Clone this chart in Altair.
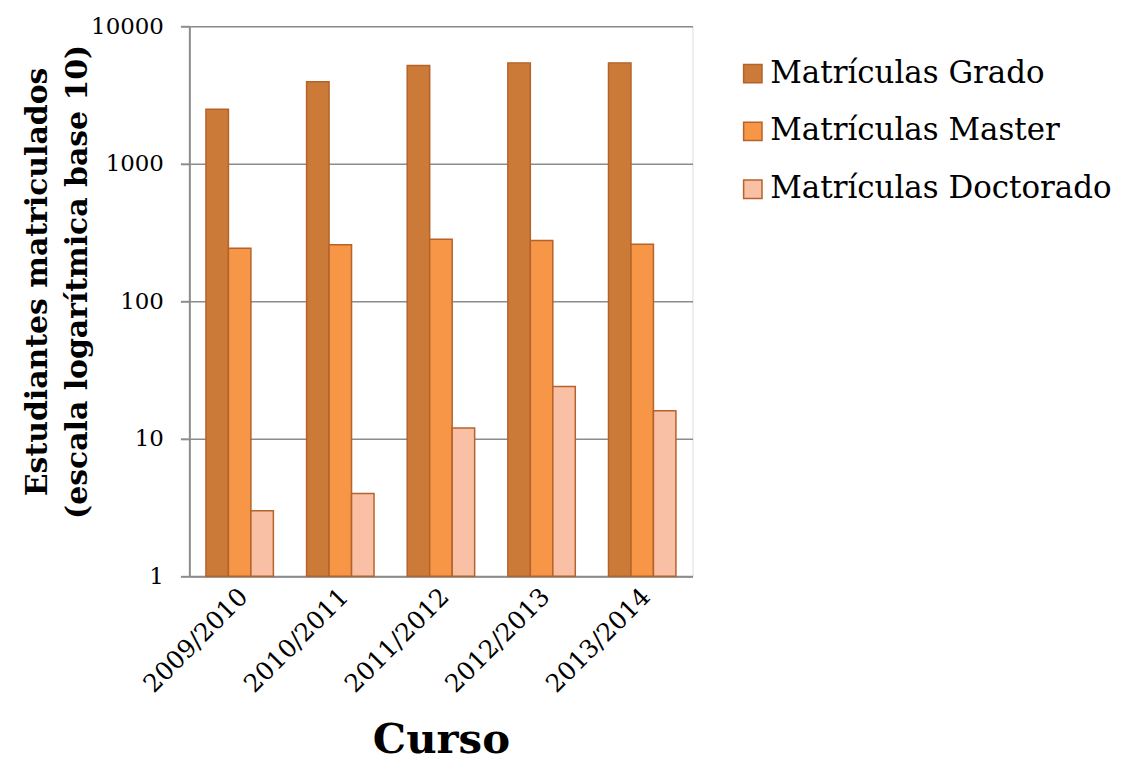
import altair as alt
import pandas as pd

cursos = ["2009/2010", "2010/2011", "2011/2012", "2012/2013", "2013/2014"]
grado = [2490, 3950, 5190, 5420, 5420]
master = [243, 258, 283, 277, 260]
doctorado = [3, 4, 12, 24, 16]
series = ["Matrículas Grado", "Matrículas Master", "Matrículas Doctorado"]
colores = ["#CB7A38", "#F79646", "#F9C0A5"]

rows = []
for i, c in enumerate(cursos):
    for s, vals in zip(series, [grado, master, doctorado]):
        rows.append({"Curso": c, "Serie": s, "Valor": vals[i]})
df = pd.DataFrame(rows)

FONT = "DejaVu Serif"

chart = alt.Chart(df).mark_bar(stroke="#B5632A", strokeWidth=1.5).encode(
    x=alt.X("Curso:N", sort=cursos,
            scale=alt.Scale(paddingInner=0.33, paddingOuter=0.165),
            axis=alt.Axis(title="Curso", labelAngle=-45, labelAlign="right",
                          labelBaseline="middle", labelPadding=16, labelOffset=4, ticks=False,
                          labelFontSize=25, labelFont=FONT, labelColor="#000",
                          titleFont=FONT, titleFontSize=42, titleFontWeight="bold",
                          titleColor="#000", titleY=164, titleBaseline="middle",
                          domainColor="#8C8C8C", domainWidth=2)),
    xOffset=alt.XOffset("Serie:N", sort=series),
    y=alt.Y("Valor:Q",
            scale=alt.Scale(type="log", domain=[1, 10000], nice=False),
            axis=alt.Axis(title=["Estudiantes matriculados", "(escala logarítmica base 10)"],
                          values=[1, 10, 100, 1000, 10000], format="d",
                          labelFontSize=23, labelFont=FONT, labelColor="#000",
                          labelPadding=17, tickSize=9, tickColor="#8C8C8C", tickWidth=2,
                          grid=True, gridColor="#8C8C8C", gridWidth=1.5,
                          domainColor="#8C8C8C", domainWidth=2,
                          titleFont=FONT, titleFontSize=30, titleFontWeight="bold",
                          titleColor="#000", titleAngle=-90, titleX=-152, titleY=256,
                          titleAlign="center", titleBaseline="middle", titleLineHeight=40)),
    y2=alt.datum(1),
    color=alt.Color("Serie:N", sort=series,
                    scale=alt.Scale(domain=series, range=colores),
                    legend=alt.Legend(title=None, orient="none", legendX=550, legendY=32,
                                      symbolType="square", symbolSize=340,
                                      symbolStrokeColor="#B5632A", symbolStrokeWidth=1.5,
                                      labelFont=FONT, labelFontSize=31, labelColor="#000",
                                      labelLimit=500, rowPadding=26, labelOffset=2)),
).properties(
    width=505,
    height=552,
    autosize=alt.AutoSizeParams(type="none"),
    padding={"left": 182, "top": 17, "right": 425, "bottom": 187},
).configure_view(
    fill="#FBEDE8", strokeWidth=0
).configure(background="white")

chart.save("out.html", embed_options={"renderer": "svg", "actions": False})
